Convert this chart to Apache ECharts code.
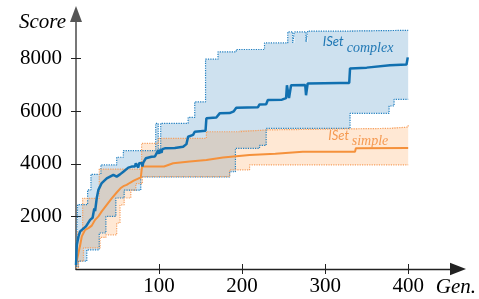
<!DOCTYPE html>
<html><head><meta charset="utf-8">
<script src="https://cdn.jsdelivr.net/npm/echarts@6/dist/echarts.min.js"></script>
<style>html,body{margin:0;padding:0;background:#fff}#c{width:479px;height:299px}</style>
</head><body><div id="c"></div>
<script>
// ---- data (generation, score) ----
const xTicks = [100, 200, 300, 400];
const yTicks = [2000, 4000, 6000, 8000];

const complexMedian = [[0,150],[1,920],[3,1240],[5,1430],[7,1480],[12,1620],[17,1870],[20,1950],[22,2300],[23,2200],[25,2700],[27,3010],[31,3270],[37,3450],[45,3580],[49,3515],[53,3600],[57,3700],[63,3855],[67,3895],[71,3900],[72,4020],[74,4000],[75,3860],[76,4020],[79,4030],[80,3900],[81,4050],[84,4210],[91,4270],[95,4280],[97,4400],[99,4520],[100,4380],[101,4540],[103,4420],[104,4560],[107,4590],[119,4600],[129,4650],[133,4750],[135,5030],[141,5100],[143,5220],[156,5260],[157,5730],[169,5760],[173,5920],[185,5930],[190,6000],[193,6130],[219,6150],[221,6260],[229,6270],[231,6430],[248,6440],[250,6490],[253,6500],[254,6990],[256,6990],[256.5,6500],[258,6500],[259,6990],[276,7000],[277,6610],[278,6610],[279,7060],[318,7080],[329,7080],[330,7630],[350,7660],[378,7750],[398,7780],[399.5,8050]];
const complexUpper = [[0,300],[2,2450],[14,3010],[18,3600],[30,3960],[49,4250],[57,4500],[96,5540],[99,4600],[102,5540],[135,5770],[143,6360],[156,7980],[171,8260],[193,8350],[227,8600],[255,9020],[261,8600],[263,9020],[277,8640],[279,9050],[330,9080],[400,9100]];
const complexLower = [[0,80],[3,300],[13,730],[28,1370],[36,2000],[48,2700],[58,3000],[78,3500],[185,3700],[192,4590],[221,4700],[229,5350],[330,5920],[377,6200],[383,6450],[400,6450]];

const simpleMedian = [[0,160],[3,620],[5,900],[7,1240],[11,1490],[15,1555],[19,1650],[23,1870],[27,2000],[31,2190],[37,2440],[43,2690],[49,2910],[53.5,3070],[57,3150],[61,3200],[65,3280],[69.5,3360],[75.5,3450],[78,3470],[79.5,3895],[106,3900],[117,4020],[137,4085],[157,4150],[177,4240],[209,4340],[240,4380],[273,4460],[336,4460],[337,4590],[400,4600]];
const simpleUpper = [[0,200],[2,1420],[8,2690],[28,3800],[79,4780],[99,4970],[157,5220],[197,5290],[229,5350],[380,5400],[400,5475]];
const simpleLower = [[0,50],[3,300],[9,800],[29,1200],[36,1300],[49,1750],[53,2440],[58,2700],[66,3000],[72,3250],[80,3515],[185,3770],[209,3960],[400,3960]];

// ---- helpers ----
function stepPts(arr){
  const out=[];
  for(let i=0;i<arr.length;i++){
    out.push(arr[i]);
    if(i<arr.length-1) out.push([arr[i+1][0], arr[i][1]]);
  }
  return out;
}
function band(upper, lower, fill){
  return function(params, api){
    const pts = stepPts(upper).concat(stepPts(lower).reverse()).map(p => api.coord(p));
    return {type:'polygon', shape:{points:pts}, style:{fill:fill}, silent:true};
  };
}
const SERIF = 'Liberation Serif';
const BLUE = '#1170b0', ORANGE = '#f5913b';
const BLUE_EDGE = '#1f7fc0', ORANGE_EDGE = '#f6a060';
const plain = v => String(v);

const chart = echarts.init(document.getElementById('c'), null, {renderer:'canvas'});
const axisCol = '#222';
const baseX = {type:'value', min:0, max:460, interval:100, position:'bottom', gridIndex:0, splitLine:{show:false}};
const baseY = {type:'value', min:0, max:9700, interval:2000, position:'left', gridIndex:0, splitLine:{show:false}};
chart.setOption({
  animation:false,
  backgroundColor:'#fff',
  grid:{left:76, right:21, top:14, bottom:30, containLabel:false, outerBoundsMode:'none'},
  xAxis:[
    Object.assign({}, baseX, {
      axisLine:{show:true, lineStyle:{color:axisCol, width:1.3}, symbol:['none','triangle'], symbolSize:[12.5,16]},
      axisTick:{show:true, inside:false, length:5, customValues:xTicks, lineStyle:{color:axisCol, width:1}},
      axisLabel:{show:true, customValues:xTicks, formatter:plain, fontFamily:SERIF, fontSize:21, color:'#000', margin:7},
      name:'Gen.', nameLocation:'end', nameGap:18,
      nameTextStyle:{fontFamily:SERIF, fontStyle:'italic', fontSize:21, color:'#000', align:'right', verticalAlign:'top', lineHeight:21, padding:[8,0,0,0]}
    }),
    Object.assign({}, baseX, {
      axisLine:{show:false}, axisLabel:{show:false},
      axisTick:{show:true, inside:true, length:5, customValues:xTicks, lineStyle:{color:axisCol, width:1}}
    })
  ],
  yAxis:[
    Object.assign({}, baseY, {
      axisLine:{show:true, lineStyle:{color:'#555', width:1.6}, symbol:['none','triangle'], symbolSize:[12,16]},
      axisTick:{show:true, inside:false, length:5, customValues:yTicks, lineStyle:{color:axisCol, width:1}},
      axisLabel:{show:true, customValues:yTicks, formatter:plain, fontFamily:SERIF, fontSize:21, color:'#000', margin:14},
      name:'Score', nameLocation:'end', nameGap:-8,
      nameTextStyle:{fontFamily:SERIF, fontStyle:'italic', fontSize:21, color:'#000', align:'right', verticalAlign:'middle', padding:[0,10,0,0]}
    }),
    Object.assign({}, baseY, {
      axisLine:{show:false}, axisLabel:{show:false},
      axisTick:{show:true, inside:true, length:5, customValues:yTicks, lineStyle:{color:axisCol, width:1}}
    })
  ],
  series:[
    {type:'custom', name:'complexBand', xAxisIndex:0, yAxisIndex:0, data:[[0,0]], renderItem:band(complexUpper, complexLower, 'rgba(31,119,180,0.22)'), z:1, silent:true},
    {type:'custom', name:'simpleBand', xAxisIndex:0, yAxisIndex:0, data:[[0,0]], renderItem:band(simpleUpper, simpleLower, 'rgba(255,127,14,0.18)'), z:1, silent:true},
    {type:'line', data:complexUpper, step:'end', symbol:'none', lineStyle:{color:BLUE_EDGE, width:1.2, type:'dotted'}, z:2, silent:true},
    {type:'line', data:complexLower, step:'end', symbol:'none', lineStyle:{color:BLUE_EDGE, width:1.2, type:'dotted'}, z:2, silent:true},
    {type:'line', data:simpleUpper, step:'end', symbol:'none', lineStyle:{color:ORANGE_EDGE, width:1.2, type:'dotted'}, z:2, silent:true},
    {type:'line', data:simpleLower, step:'end', symbol:'none', lineStyle:{color:ORANGE_EDGE, width:1.2, type:'dotted'}, z:2, silent:true},
    {type:'line', data:simpleMedian, symbol:'none', lineStyle:{color:ORANGE, width:2}, z:3, silent:true},
    {type:'line', data:complexMedian, symbol:'none', lineStyle:{color:BLUE, width:2.5}, z:4, silent:true}
  ],
  graphic:[
    {type:'text', x:322.7, y:42, z:10, style:{text:'ISet', font:'italic 13px Lato', fill:'#1f77b4', textVerticalAlign:'middle'}},
    {type:'text', x:346.7, y:48.7, z:10, style:{text:'complex', font:'italic 14px "Liberation Serif"', fill:'#1f77b4', textVerticalAlign:'middle'}},
    {type:'text', x:328.3, y:135.8, z:10, style:{text:'ISet', font:'italic 13px Lato', fill:'#f59a52', textVerticalAlign:'middle'}},
    {type:'text', x:351.7, y:141.4, z:10, style:{text:'simple', font:'italic 14px "Liberation Serif"', fill:'#f59a52', textVerticalAlign:'middle'}}
  ]
});
</script></body></html>
